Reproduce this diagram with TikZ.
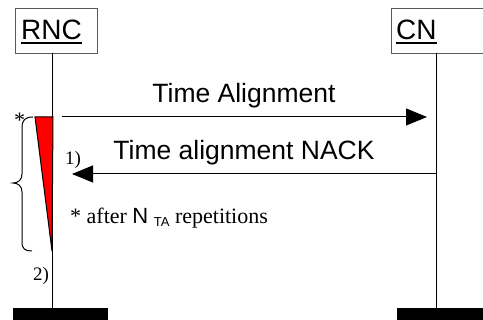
\documentclass[tikz,border=0pt]{standalone}
\usepackage{fontspec}
\setmainfont{Liberation Serif}
\setsansfont{Liberation Sans}
\usetikzlibrary{arrows.meta}
\begin{document}
\begin{tikzpicture}[x=1pt,y=-1pt,
  sans/.style={font=\fontsize{26.5}{26.5}\sffamily, inner sep=0pt},
  head/.style={font=\fontsize{28}{28}\sffamily, inner sep=0pt},
  serif/.style={font=\fontsize{19}{19}\selectfont, inner sep=0pt},
  hbox/.style={draw=gray!70!black, line width=1pt, inner sep=0pt},
  bar/.style={fill=black, inner sep=0pt, minimum height=14pt},
  life/.style={line width=1pt},
  msg/.style={line width=1pt, -{Triangle[length=21pt,width=17pt]}},
  ul/.style={line width=2pt}]
\useasboundingbox (0,0) rectangle (483,320);
\clip (0,0) rectangle (483,320);
% heads
\node[hbox, minimum width=82pt, minimum height=45pt, anchor=north west] (rncbox) at (15,8) {};
\node[head, anchor=base west] (rnctxt) at (21,40) {RNC};
\draw[ul] ([yshift=-3.5pt]rnctxt.base west) -- ([yshift=-3.5pt]rnctxt.base east);
\node[hbox, minimum width=110pt, minimum height=45pt, anchor=north west] (cnbox) at (391,8) {};
\node[head, anchor=base west] (cntxt) at (396,40) {CN};
\draw[ul] ([yshift=-3.5pt]cntxt.base west) -- ([yshift=-3.5pt]cntxt.base east);
% bars
\node[bar, minimum width=95pt, anchor=north west] (rncbar) at (13,308) {};
\node[bar, minimum width=100pt, anchor=north west] (cnbar) at (397,308) {};
% lifelines
\coordinate (rtop) at (52,53);
\coordinate (ctop) at (436,53);
\draw[life] (rtop) -- (rtop |- rncbar.north);
\draw[life] (ctop) -- (ctop |- cnbar.north);
% red triangle
\coordinate (t1) at (35,117);
\coordinate (t2) at (53,117);
\coordinate (t3) at (52,251);
\draw[fill=red, line width=1pt] (t1) -- (t2) -- (t3) -- cycle;
% messages
\coordinate (a1s) at (62,117);
\coordinate (a1e) at (427,117);
\draw[msg] (a1s) -- (a1e);
\node[sans, anchor=base] (l1) at (244,103) {Time Alignment};
\coordinate (a2s) at (436,174);
\coordinate (a2e) at (72,174);
\draw[msg] (a2s) -- (a2e);
\node[sans, anchor=base] (l2) at (244,160) {Time alignment NACK};
% brace
\draw[line width=1pt] (33,117) .. controls (25,117) and (22,120) .. (22,128)
  -- (22,174) .. controls (22,180) and (18,183) .. (13,183)
  .. controls (18,183) and (22,186) .. (22,192)
  -- (22,242) .. controls (22,249) and (25,251) .. (32,251);
% labels
\node[serif, font=\fontsize{22}{22}\selectfont, anchor=base west] (star) at (14,128) {*};
\node[serif, anchor=base west] (n1) at (65,165) {1)};
\node[serif, anchor=base west] (n2) at (33,281) {2)};
\node[serif, font=\fontsize{22}{22}\selectfont, anchor=base west] (foot) at (70,224)
  {* after {\sffamily N} \raisebox{-3pt}{\fontsize{13}{13}\sffamily TA} repetitions};
\end{tikzpicture}
\end{document}
